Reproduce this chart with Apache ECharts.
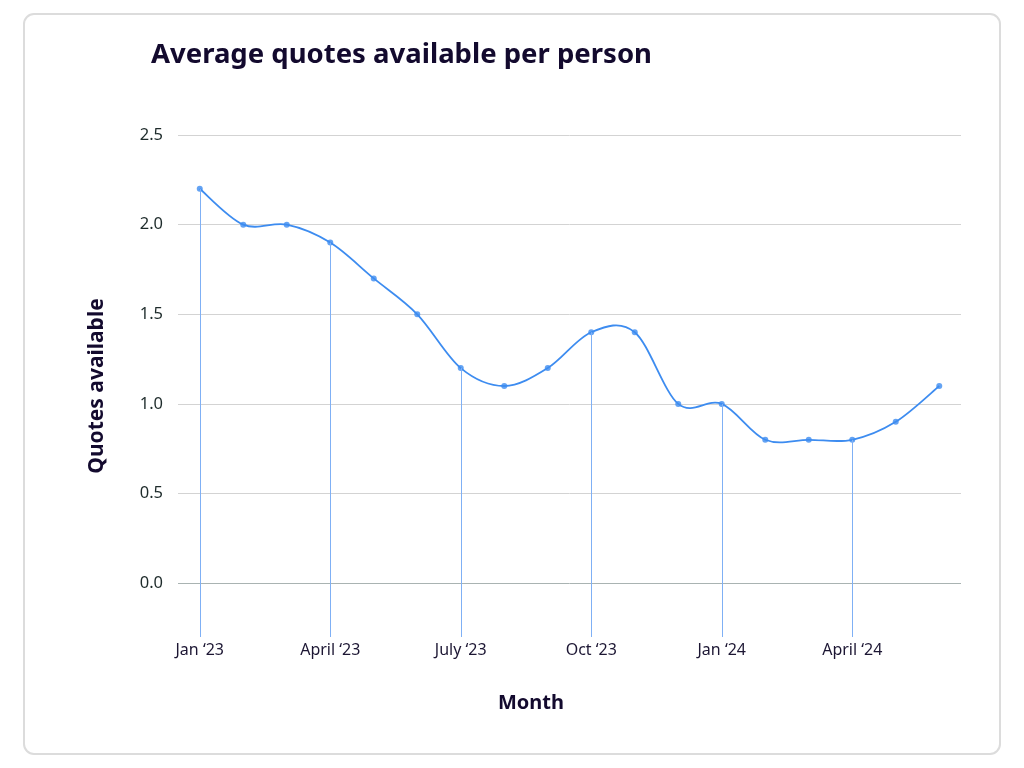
<!DOCTYPE html>
<html>
<head>
<meta charset="utf-8">
<script src="https://cdn.jsdelivr.net/npm/echarts@6/dist/echarts.min.js"></script>
<style>
html,body{margin:0;padding:0;background:#fff;}
#chart{width:1024px;height:768px;}
</style>
</head>
<body>
<div id="chart"></div>
<script>
const categories = ["Jan ‘23","Feb ‘23","Mar ‘23","April ‘23","May ‘23","Jun ‘23","July ‘23","Aug ‘23","Sep ‘23","Oct ‘23","Nov ‘23","Dec ‘23","Jan ‘24","Feb ‘24","Mar ‘24","April ‘24","May ‘24","Jun ‘24"];
const quotes = [2.2, 2.0, 2.0, 1.9, 1.7, 1.5, 1.2, 1.1, 1.2, 1.4, 1.4, 1.0, 1.0, 0.8, 0.8, 0.8, 0.9, 1.1];
const dropLineMonths = ["Jan ‘23","April ‘23","July ‘23","Oct ‘23","Jan ‘24","April ‘24"];
const yTicks = [0, 0.5, 1.0, 1.5, 2.0, 2.5];
const yFloor = -0.3;

const chart = echarts.init(document.getElementById('chart'));
const font = "'Noto Sans', sans-serif";
const dropData = dropLineMonths.map(m => {
  const v = quotes[categories.indexOf(m)];
  return [{coord: [m, v]}, {coord: [m, yFloor]}];
});

// Catmull-Rom style smooth curve through the data points (via the axis scales)
function renderCurve(params, api) {
  if (params.dataIndex !== 0) return null;
  const pts = quotes.map((v, i) => api.coord([i, v]));
  const n = pts.length;
  let d = 'M' + pts[0][0] + ' ' + pts[0][1];
  for (let i = 0; i < n - 1; i++) {
    const p0 = pts[Math.max(i - 1, 0)], p1 = pts[i], p2 = pts[i + 1], p3 = pts[Math.min(i + 2, n - 1)];
    const c1x = p1[0] + (p2[0] - p0[0]) / 6, c1y = p1[1] + (p2[1] - p0[1]) / 6;
    const c2x = p2[0] - (p3[0] - p1[0]) / 6, c2y = p2[1] - (p3[1] - p1[1]) / 6;
    d += ' C' + c1x + ' ' + c1y + ' ' + c2x + ' ' + c2y + ' ' + p2[0] + ' ' + p2[1];
  }
  return {
    type: 'path',
    shape: {pathData: d},
    style: {fill: 'none', stroke: '#3d8cf0', lineWidth: 1.8}
  };
}

chart.setOption({
  backgroundColor: '#fff',
  animation: false,
  title: {
    text: 'Average quotes available per person',
    left: 151, top: 41, padding: 0,
    textStyle: {fontFamily: font, fontSize: 27.5, fontWeight: 'bold', color: '#130a2e'}
  },
  graphic: [
    {type: 'rect', shape: {x: 24, y: 14, width: 976, height: 740, r: 10}, style: {fill: 'none', stroke: '#dcdcdc', lineWidth: 2}, z: -1},
    {type: 'text', x: 531, y: 703, style: {text: 'Month', fontFamily: font, fontSize: 20, fontWeight: 'bold', fill: '#130a2e', align: 'center', verticalAlign: 'middle'}}
  ],
  grid: [
    {left: 178, right: 63, top: 135, bottom: 185},
    {left: 178, right: 63, top: 135, bottom: 131}
  ],
  xAxis: [
    {gridIndex: 0, type: 'category', data: categories, boundaryGap: true, show: false},
    {gridIndex: 1, type: 'category', data: categories, boundaryGap: true,
     axisLine: {show: false}, axisTick: {show: false},
     axisLabel: {interval: 2, margin: 5, fontFamily: font, fontSize: 16, color: '#1c1633'}}
  ],
  yAxis: [
    {gridIndex: 0, type: 'value', min: yTicks[0], max: yTicks[yTicks.length-1], interval: 0.5,
     axisLine: {show: false}, axisTick: {show: false},
     axisLabel: {margin: 15, fontFamily: font, fontSize: 16.5, color: '#1e2b2b', formatter: v => v.toFixed(1)},
     splitLine: {lineStyle: {color: ['#a9b3b2','#d3d3d3','#d3d3d3','#d3d3d3','#d3d3d3','#d3d3d3'], width: 1}}
    },
    {gridIndex: 1, type: 'value', min: yFloor, max: 2.5,
     axisLine: {show: false}, axisTick: {show: false}, axisLabel: {show: false}, splitLine: {show: false},
     name: 'Quotes available', nameLocation: 'middle', nameGap: 70,
     nameTextStyle: {fontFamily: font, fontSize: 21, fontWeight: 'bold', color: '#130a2e'}
    }
  ],
  series: [
    {
      type: 'custom',
      xAxisIndex: 1, yAxisIndex: 1,
      data: quotes.map((v, i) => [i, v]),
      renderItem: renderCurve,
      silent: true,
      z: 3
    },
    {
      type: 'scatter',
      xAxisIndex: 1, yAxisIndex: 1,
      data: quotes,
      symbol: 'circle', symbolSize: 6,
      itemStyle: {color: '#3d8cf0'},
      markLine: {
        silent: true, symbol: ['none','none'], label: {show: false},
        lineStyle: {color: '#7fb0f5', type: 'solid', width: 1},
        data: dropData
      },
      z: 4
    }
  ]
});
</script>
</body>
</html>
